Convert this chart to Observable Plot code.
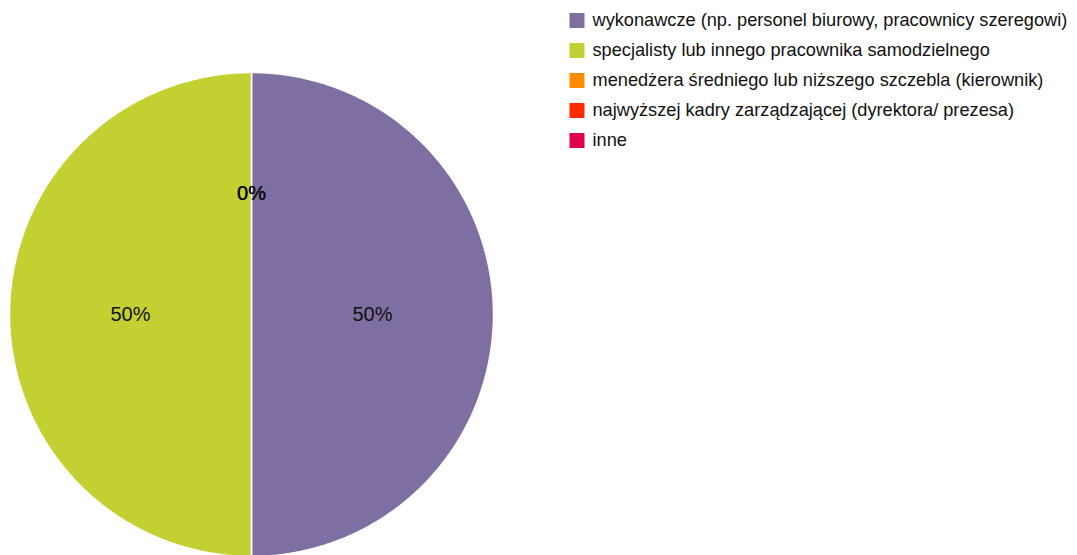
<!DOCTYPE html>
<html>
<head>
<meta charset="utf-8">
<script src="https://cdn.jsdelivr.net/npm/d3@7"></script>
<script src="https://cdn.jsdelivr.net/npm/@observablehq/plot@0.6"></script>
<style>
  html, body { margin: 0; padding: 0; background: #fff; overflow: hidden; }
  #wrap { position: relative; width: 1077px; height: 555px; font-family: "Liberation Sans", Arial, sans-serif; }
  #pie { position: absolute; left: 0; top: 0; }
  #legend { position: absolute; left: 560px; top: 0; }
</style>
</head>
<body>
<div id="wrap"><div id="pie"></div><div id="legend"></div></div>
<script>
const categories = [
  "wykonawcze (np. personel biurowy, pracownicy szeregowi)",
  "specjalisty lub innego pracownika samodzielnego",
  "menedżera średniego lub niższego szczebla (kierownik)",
  "najwyższej kadry zarządzającej (dyrektora/ prezesa)",
  "inne"
];
const values = [50, 50, 0, 0, 0];
const colors = ["#7e6ea1", "#c3d031", "#ff8c00", "#ff2a00", "#e0004a"];

const rows = categories.map((c, i) => ({cat: c, value: values[i]}));
const arcs = d3.pie().sort(null).value(d => d.value)(rows);

// slice polygons in unit-circle coordinates (angle 0 at top, clockwise)
const pt = a => [Math.sin(a), Math.cos(a)];
const slices = arcs.filter(a => a.endAngle > a.startAngle).map(a => {
  const ring = [[0, 0]];
  const n = Math.max(2, Math.ceil((a.endAngle - a.startAngle) / (Math.PI / 360)));
  for (let k = 0; k <= n; ++k) ring.push(pt(a.startAngle + (a.endAngle - a.startAngle) * k / n));
  ring.push([0, 0]);
  return {type: "Feature", properties: {cat: a.data.cat}, geometry: {type: "Polygon", coordinates: [ring]}};
});
const labels = arcs.map(a => {
  const m = (a.startAngle + a.endAngle) / 2;
  return {cat: a.data.cat, x: 0.5 * Math.sin(m), y: 0.5 * Math.cos(m), text: a.data.value + "%"};
});

const colorScale = {domain: categories, range: colors};

const pie = Plot.plot({
  width: 1077 - 560,
  height: 555,
  margin: 0,
  style: {background: "transparent", fontFamily: "'Liberation Sans', Arial, sans-serif"},
  projection: d3.geoIdentity().reflectY(true).scale(242).translate([251, 314]),
  color: colorScale,
  marks: [
    Plot.geo(slices, {fill: d => d.properties.cat, stroke: "white", strokeWidth: 1.5}),
    Plot.text(labels, {x: "x", y: "y", text: "text", fill: "#111", fontSize: 20})
  ]
});
document.getElementById("pie").appendChild(pie);

const legend = Plot.plot({
  width: 517,
  height: 160,
  margin: 0,
  style: {background: "transparent", fontFamily: "'Liberation Sans', Arial, sans-serif"},
  y: {type: "point", domain: categories, range: [19.5, 139.5], padding: 0, axis: null},
  color: colorScale,
  marks: [
    Plot.dot(categories, {y: d => d, fill: d => d, symbol: "square", r: 15 / Math.sqrt(Math.PI), frameAnchor: "left", dx: 16.5}),
    Plot.text(categories, {y: d => d, text: d => d, frameAnchor: "left", dx: 32, textAnchor: "start", fill: "#111", fontSize: 18.2})
  ]
});
document.getElementById("legend").appendChild(legend);
</script>
</body>
</html>
